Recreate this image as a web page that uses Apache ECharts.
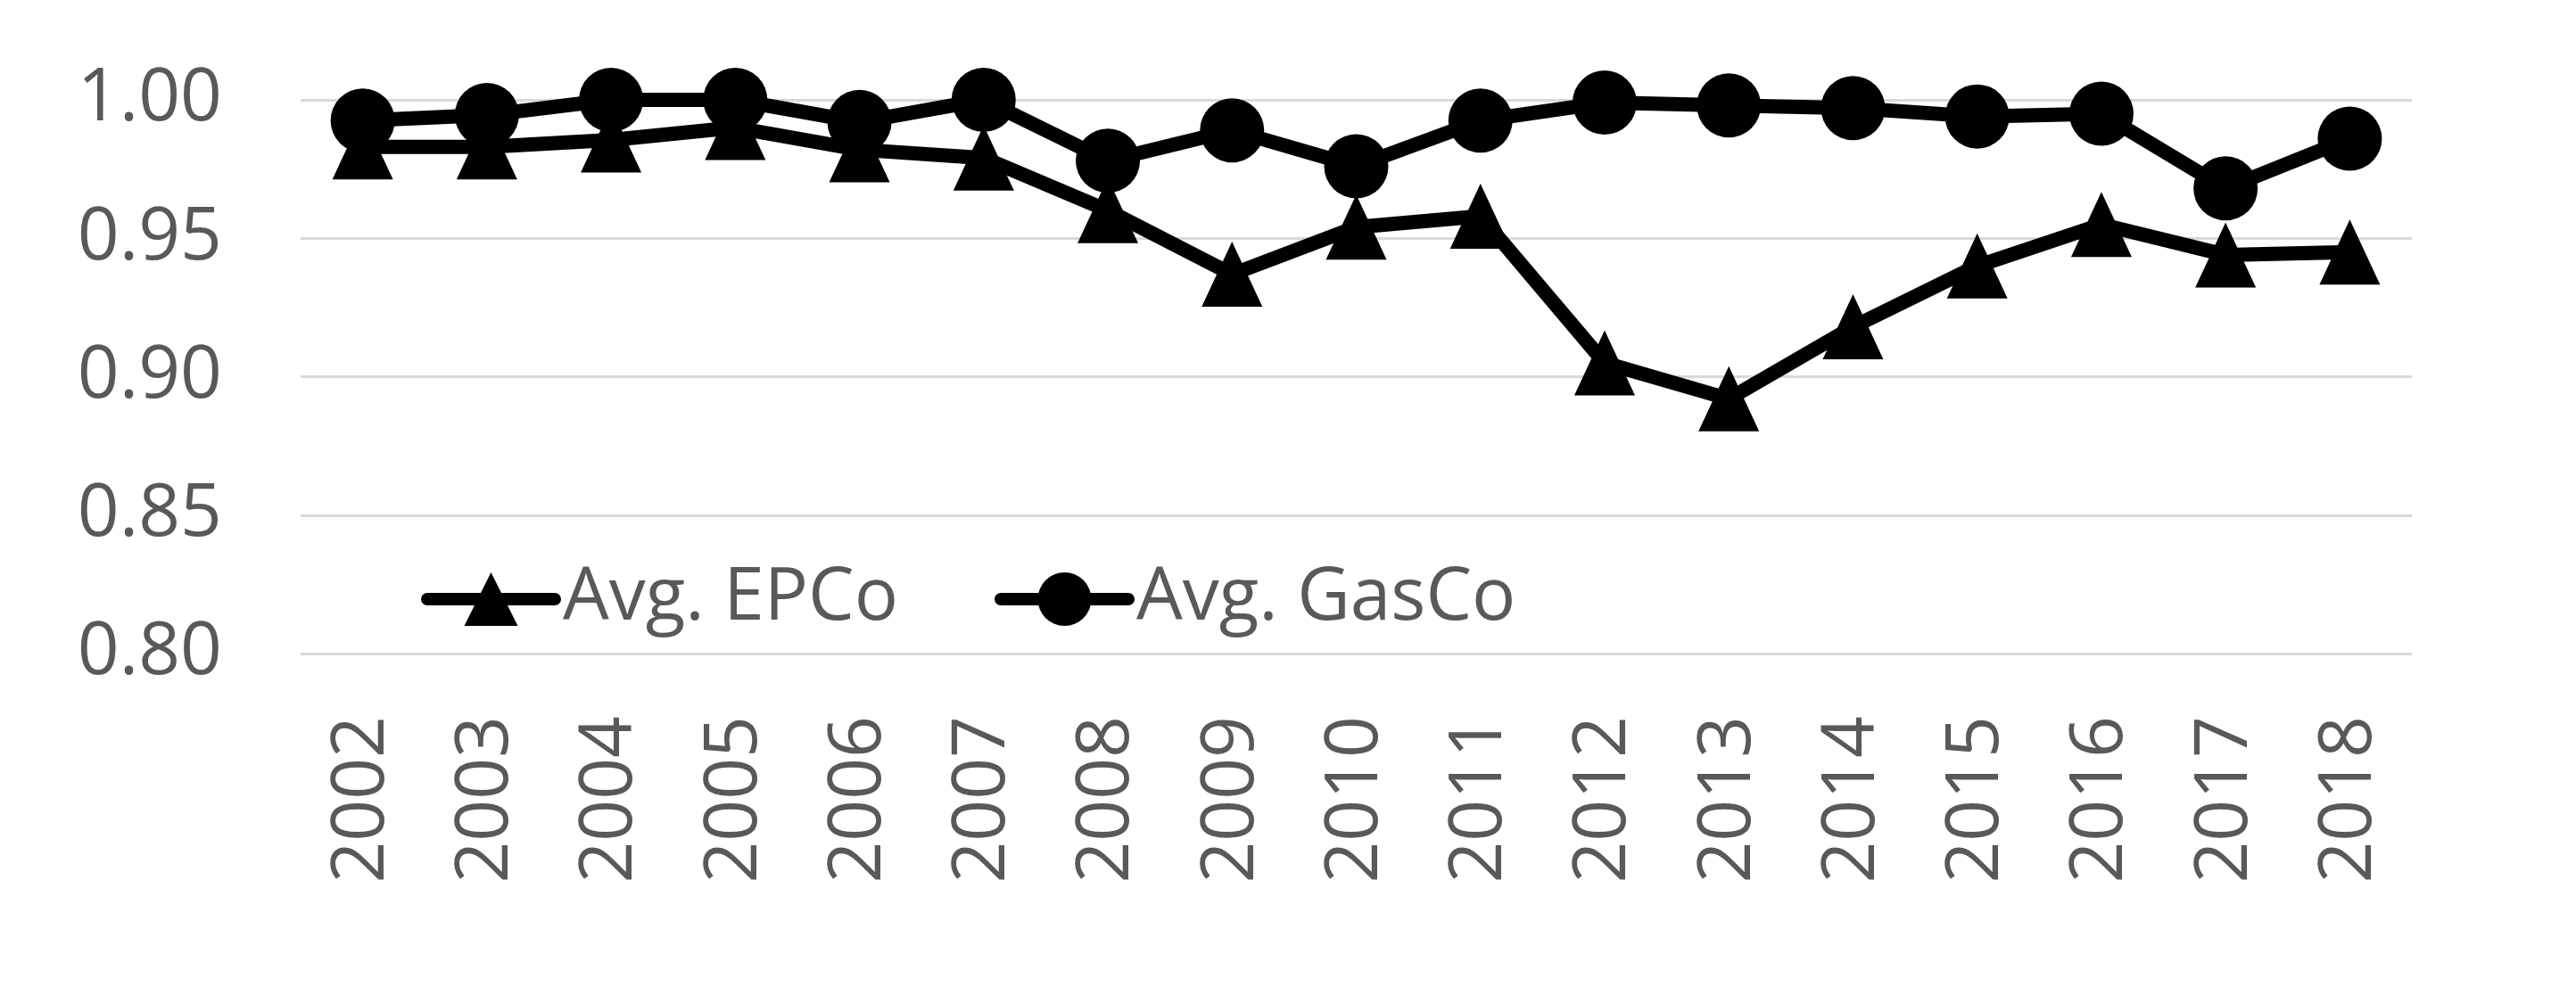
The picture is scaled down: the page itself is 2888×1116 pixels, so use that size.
<!DOCTYPE html>
<html>
<head>
<meta charset="utf-8">
<script src="https://cdn.jsdelivr.net/npm/echarts@6/dist/echarts.min.js"></script>
<style>
html,body{margin:0;padding:0;background:#fff;}
#chart{width:2888px;height:1116px;}
</style>
</head>
<body>
<div id="chart"></div>
<script>
const years = ['2002','2003','2004','2005','2006','2007','2008','2009','2010','2011','2012','2013','2014','2015','2016','2017','2018'];
const epco = [0.983,0.983,0.9855,0.990,0.982,0.979,0.960,0.937,0.954,0.958,0.905,0.892,0.918,0.940,0.955,0.944,0.945];
const gasco = [0.9925,0.9945,1.000,1.000,0.992,1.000,0.978,0.989,0.976,0.9925,0.999,0.998,0.997,0.994,0.995,0.968,0.986];
const yTicks = { min: 0.8, max: 1.0, interval: 0.05 };

const FONT = "'Open Sans', 'Noto Sans', sans-serif";
const TXT = '#595959';

const legendBase = {
  top: 626, itemWidth: 143, itemHeight: 75, itemGap: 0,
  lineStyle: { width: 14, color: '#000', cap: 'round' },
  textStyle: { fontFamily: FONT, fontSize: 82, color: TXT, padding: [0,0,0,4] }
};

const chart = echarts.init(document.getElementById('chart'), null, {renderer:'canvas'});
chart.setOption({
  animation: false,
  backgroundColor: '#ffffff',
  grid: { left: 337, right: 184, top: 112, bottom: 383, containLabel: false },
  legend: [
    Object.assign({}, legendBase, { data: ['Avg. EPCo'], left: 467 }),
    Object.assign({}, legendBase, { data: ['Avg. GasCo'], left: 1110 })
  ],
  xAxis: {
    type: 'category',
    data: years,
    boundaryGap: true,
    axisLine: { show: false },
    axisTick: { show: false },
    axisLabel: { rotate: 90, margin: 70, fontFamily: FONT, fontSize: 82, color: TXT }
  },
  yAxis: {
    type: 'value',
    min: yTicks.min, max: yTicks.max, interval: yTicks.interval,
    axisLine: { show: false },
    axisTick: { show: false },
    splitLine: { show: true, lineStyle: { color: '#d9d9d9', width: 3 } },
    axisLabel: { margin: 88, fontFamily: FONT, fontSize: 82, color: TXT,
      formatter: v => v.toFixed(2) }
  },
  series: [
    { name: 'Avg. EPCo', type: 'line', data: epco,
      symbol: 'triangle', symbolSize: [68, 73],
      lineStyle: { color: '#000', width: 16, join: 'round' },
      itemStyle: { color: '#000' } },
    { name: 'Avg. GasCo', type: 'line', data: gasco,
      symbol: 'circle', symbolSize: 72,
      lineStyle: { color: '#000', width: 16, join: 'round' },
      itemStyle: { color: '#000' } }
  ]
});
</script>
</body>
</html>
